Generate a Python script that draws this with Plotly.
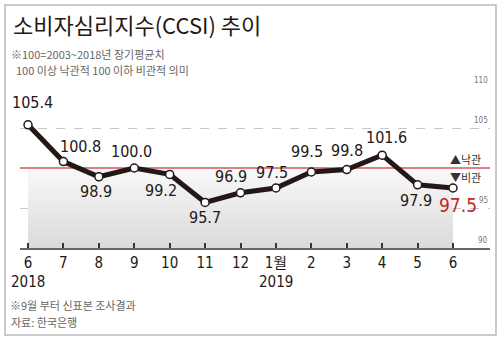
import plotly.graph_objects as go

# ---- data ----
months = ["6", "7", "8", "9", "10", "11", "12", "1월", "2", "3", "4", "5", "6"]
values = [105.4, 100.8, 98.9, 100.0, 99.2, 95.7, 96.9, 97.5, 99.5, 99.8, 101.6, 97.9, 97.5]
years = ["2018", "2019"]
year_idx = [0, 7]
y_labels_vals = [90, 95, 105, 110]
y_labels_text = ["90", "95", "105", "110"]
grid_vals = [95, 105, 110]
baseline = 100

# ---- styles / positions ----
label_offsets = [(4, -22), (17, -15), (-3, 15), (-3, -17), (-9, 16), (0, 15), (-10, -16),
                 (-4, -16), (-4, -21), (0, -19), (4, -18), (-2, 16), (5, 17)]
NUM_FONT = "DejaVu Sans Condensed, Noto Sans CJK KR"
KR_FONT = "Noto Sans CJK KR"
W, H = 500, 342
L, R, T, B = 20, 10, 88, 94
PW, PH = W - L - R, H - T - B
x = list(range(len(values)))
xmin, xmax = -0.226, 13.045


def px_to_paper_x(px):
    return (px - L) / PW


def py_to_paper_y(py):
    return (H - B - py) / PH


fig = go.Figure()

# gradient area under baseline
fig.add_trace(go.Scatter(
    x=[x[0], x[-1], x[-1], x[0], x[0]],
    y=[90, 90, baseline, baseline, 90],
    mode="lines", line=dict(width=0), fill="toself",
    fillgradient=dict(type="vertical", start=90, stop=baseline,
                      colorscale=[[0, "#dadada"], [1, "#f9f9f9"]]),
    hoverinfo="skip", showlegend=False))

# baseline red line
fig.add_trace(go.Scatter(
    x=[xmin, xmax], y=[baseline, baseline], mode="lines",
    line=dict(color="#d4545e", width=1.5), hoverinfo="skip", showlegend=False))

# main line
fig.add_trace(go.Scatter(
    x=x, y=values, mode="lines+markers",
    line=dict(color="#231815", width=5),
    marker=dict(size=8, color="white", line=dict(color="#231815", width=1.5)),
    showlegend=False, cliponaxis=False))

annotations = []
for i, v in enumerate(values):
    dx, dy = label_offsets[i]
    last = i == len(values) - 1
    annotations.append(dict(
        x=x[i], y=v, xref="x", yref="y", text=f"{v:.1f}", showarrow=False,
        xshift=dx, yshift=-dy,
        font=dict(family=NUM_FONT, size=19 if last else 16,
                  color="#c1272d" if last else "#231815")))

# right side grid labels
for gv, gl in zip(y_labels_vals, y_labels_text):
    annotations.append(dict(
        x=1, y=gv, xref="paper", yref="y", text=gl, showarrow=False,
        xanchor="right", yanchor="bottom", yshift=1,
        font=dict(family=NUM_FONT, size=8, color="#777")))

# optimism / pessimism markers
annotations.append(dict(x=px_to_paper_x(483), y=baseline, xref="paper", yref="y",
                        text="▲낙관", showarrow=False, xanchor="right", yanchor="bottom", yshift=-1,
                        font=dict(family=KR_FONT, size=11, color="#333")))
annotations.append(dict(x=px_to_paper_x(483), y=baseline, xref="paper", yref="y",
                        text="▼비관", showarrow=False, xanchor="right", yanchor="top", yshift=1,
                        font=dict(family=KR_FONT, size=11, color="#333")))

# years
for yi, yt in zip(year_idx, years):
    annotations.append(dict(x=yi, y=py_to_paper_y(282), xref="x", yref="paper",
                            text=yt, showarrow=False, yanchor="middle",
                            font=dict(family=NUM_FONT, size=15, color="#231815")))

# title and notes
annotations.append(dict(x=px_to_paper_x(11), y=py_to_paper_y(24), xref="paper", yref="paper",
                        text="소비자심리지수(CCSI) 추이", showarrow=False, xanchor="left", yanchor="middle",
                        font=dict(family=KR_FONT, size=22, color="#231815")))
annotations.append(dict(x=px_to_paper_x(9), y=py_to_paper_y(54), xref="paper", yref="paper",
                        text="※100=2003~2018년 장기평균치", showarrow=False, xanchor="left", yanchor="middle",
                        font=dict(family=KR_FONT, size=11, color="#666")))
annotations.append(dict(x=px_to_paper_x(14), y=py_to_paper_y(70), xref="paper", yref="paper",
                        text="100 이상 낙관적 100 이하 비관적 의미", showarrow=False, xanchor="left", yanchor="middle",
                        font=dict(family=KR_FONT, size=11, color="#666")))
annotations.append(dict(x=px_to_paper_x(8), y=py_to_paper_y(305), xref="paper", yref="paper",
                        text="※9월 부터 신표본 조사결과", showarrow=False, xanchor="left", yanchor="middle",
                        font=dict(family=KR_FONT, size=11, color="#666")))
annotations.append(dict(x=px_to_paper_x(9), y=py_to_paper_y(322), xref="paper", yref="paper",
                        text="자료: 한국은행", showarrow=False, xanchor="left", yanchor="middle",
                        font=dict(family=KR_FONT, size=11, color="#666")))

shapes = [
    # frame
    dict(type="rect", xref="paper", yref="paper",
         x0=px_to_paper_x(5), x1=px_to_paper_x(496), y0=py_to_paper_y(335), y1=py_to_paper_y(5),
         line=dict(color="#bbbbbb", width=1.5)),
]

fig.update_layout(
    width=W, height=H,
    margin=dict(l=L, r=R, t=T, b=B),
    paper_bgcolor="white", plot_bgcolor="white",
    showlegend=False,
    xaxis=dict(range=[xmin, xmax], tickvals=x, ticktext=months,
               ticks="inside", ticklen=5, tickwidth=1.5, tickcolor="#333",
               showline=True, linecolor="#666", linewidth=2,
               showgrid=False, zeroline=False, fixedrange=True,
               tickfont=dict(family=NUM_FONT, size=15, color="#231815")),
    yaxis=dict(range=[90, 110], tickvals=grid_vals, showticklabels=False,
               showgrid=True, gridcolor="#c8c8c8", griddash="dash", gridwidth=1,
               zeroline=False, showline=False, fixedrange=True),
    annotations=annotations,
    shapes=shapes,
)

fig.write_html("out.html")
